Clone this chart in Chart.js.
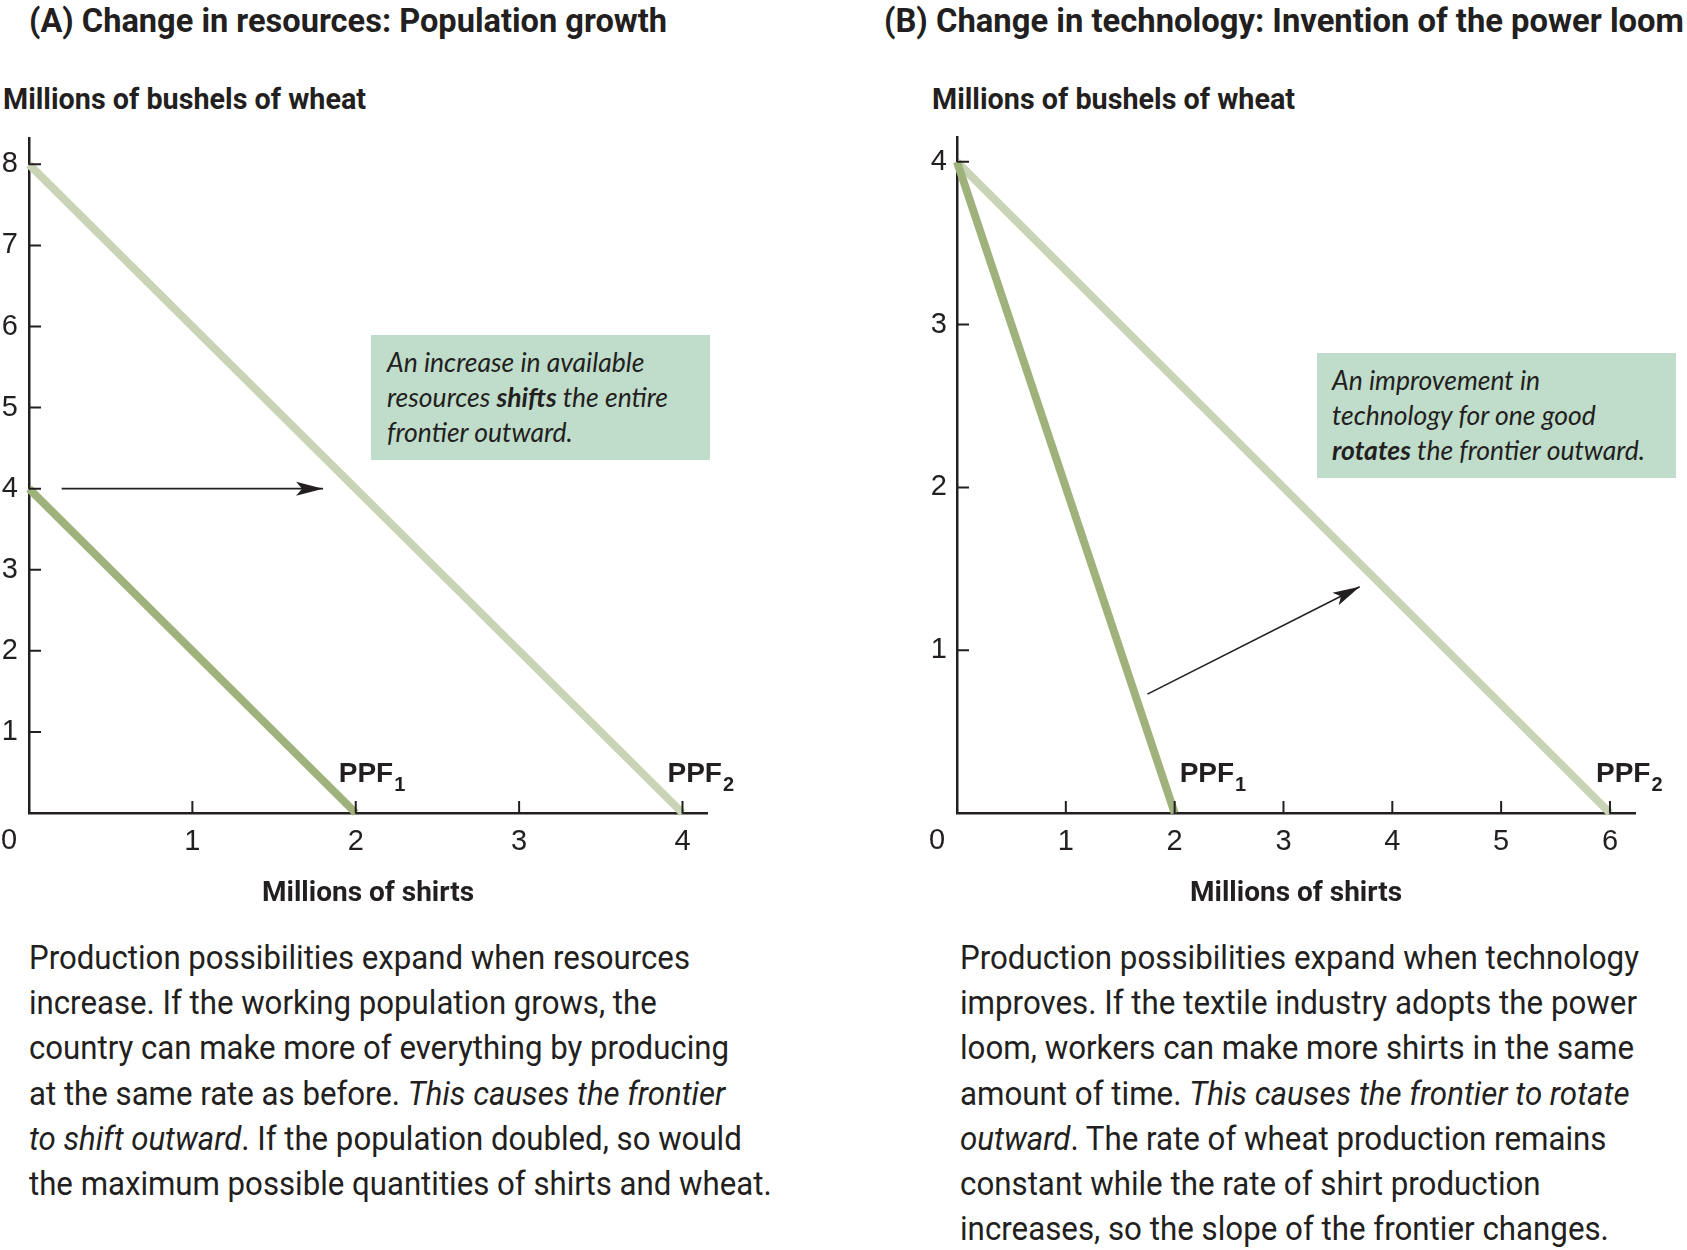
<!DOCTYPE html>
<html>
<head>
<meta charset="utf-8">
<script src="https://cdn.jsdelivr.net/npm/chart.js@4.4.1/dist/chart.umd.min.js"></script>
<style>
  html, body { margin: 0; padding: 0; background: #fff; }
  body { width: 1687px; height: 1250px; position: relative; overflow: hidden; color: #231f20; }
  .title { position: absolute; font-family: Roboto, sans-serif; font-weight: bold; font-size: 34px; line-height: 34px; white-space: nowrap; transform-origin: 0 0; }
  .ytitle { position: absolute; font-family: Roboto, sans-serif; font-weight: bold; font-size: 29px; line-height: 29px; white-space: nowrap; transform-origin: 0 0; }
  .box { position: absolute; background: #c0dccb; font-family: Lato, sans-serif; font-style: italic; font-size: 26.5px; line-height: 35px; white-space: nowrap; box-sizing: border-box; }
  .caption { position: absolute; font-family: Roboto, sans-serif; font-size: 33px; line-height: 45.2px; white-space: nowrap; transform-origin: 0 0; }
  canvas { position: absolute; }
</style>
</head>
<body>
<div class="title" data-w="638" style="left:29px; top:3px;">(A) Change in resources: Population growth</div>
<div class="title" data-w="800" style="left:884px; top:3px;">(B) Change in technology: Invention of the power loom</div>
<div class="ytitle" data-w="363" style="left:3px; top:85px;">Millions of bushels of wheat</div>
<div class="ytitle" data-w="363" style="left:932px; top:85px;">Millions of bushels of wheat</div>

<canvas id="chartA" width="770" height="801" style="left:0; top:110px;"></canvas>
<canvas id="chartB" width="787" height="801" style="left:900px; top:110px;"></canvas>

<div class="box" style="left:371px; top:335px; width:339px; height:125px; padding:10px 0 0 16px;">
  An increase in available<br>resources <b>shifts</b> the entire<br>frontier outward.
</div>
<div class="box" style="left:1317px; top:353px; width:359px; height:125px; padding:10px 0 0 15px;">
  An improvement in<br>technology for one good<br><b>rotates</b> the frontier outward.
</div>

<div class="caption" id="capA" data-first="661" style="left:29px; top:935px;">
  <span class="first">Production possibilities expand when resources</span><br>
  increase. If the working population grows, the<br>
  country can make more of everything by producing<br>
  at the same rate as before. <i>This causes the frontier</i><br>
  <i>to shift outward</i>. If the population doubled, so would<br>
  the maximum possible quantities of shirts and wheat.
</div>
<div class="caption" id="capB" data-first="679" style="left:960px; top:935px;">
  <span class="first">Production possibilities expand when technology</span><br>
  improves. If the textile industry adopts the power<br>
  loom, workers can make more shirts in the same<br>
  amount of time. <i>This causes the frontier to rotate</i><br>
  <i>outward</i>. The rate of wheat production remains<br>
  constant while the rate of shirt production<br>
  increases, so the slope of the frontier changes.
</div>

<script>
// ---------- data ----------

// Panel A: population growth (shirts, wheat), millions
const xTicksA = [1, 2, 3, 4];
const yTicksA = [1, 2, 3, 4, 5, 6, 7, 8];
const ppf1A = [[0, 4], [2, 0]];
const ppf2A = [[0, 8], [4, 0]];
const arrowA = [[0.2, 4], [1.8, 4]];

// Panel B: power loom
const xTicksB = [1, 2, 3, 4, 5, 6];
const yTicksB = [1, 2, 3, 4];
const ppf1B = [[0, 4], [2, 0]];
const ppf2B = [[0, 4], [6, 0]];
const arrowB = [[1.75, 0.73], [3.7, 1.39]];

// ---------- styles ----------

const INK = "#231f20";
const GREEN_DARK = "#9fb27c";
const GREEN_LIGHT = "#c9d4b6";
const TICK_FONT = { family: "Liberation Sans", size: 29 };

// squeeze the condensed headings and captions to the width they have in the figure
document.querySelectorAll("[data-w]").forEach((el) => {
  const w = el.getBoundingClientRect().width;
  el.style.transform = "scaleX(" + (+el.dataset.w / w) + ")";
});
document.querySelectorAll(".caption").forEach((el) => {
  const w = el.querySelector(".first").getBoundingClientRect().width;
  el.style.transform = "scaleX(" + (+el.dataset.first / w) + ")";
});

// tick marks drawn inward, origin "0", PPF labels, arrow heads
const extras = {
  id: "extras",
  afterDatasetsDraw(chart) {
    const { ctx } = chart;
    const x = chart.scales.x, y = chart.scales.y;
    const x0 = x.getPixelForValue(0), y0 = y.getPixelForValue(0);
    ctx.save();

    ctx.strokeStyle = INK;
    ctx.lineWidth = 2;
    ctx.beginPath();
    x.ticks.forEach((t) => {
      const px = x.getPixelForValue(t.value);
      ctx.moveTo(px, y0);
      ctx.lineTo(px, y0 - 12);
    });
    y.ticks.forEach((t) => {
      const py = y.getPixelForValue(t.value);
      ctx.moveTo(x0, py);
      ctx.lineTo(x0 + 12, py);
    });
    ctx.stroke();

    ctx.fillStyle = INK;
    ctx.font = TICK_FONT.size + "px '" + TICK_FONT.family + "'";
    ctx.textAlign = "center";
    ctx.textBaseline = "middle";
    ctx.fillText("0", x0 - 20, y0 + 28);

    chart.data.datasets.forEach((ds, i) => {
      const pts = chart.getDatasetMeta(i).data;
      const end = pts[pts.length - 1];
      if (ds.ppfLabel) {
        const lx = end.x + ds.ppfLabel.dx, ly = end.y - 31;
        ctx.textAlign = "left";
        ctx.textBaseline = "alphabetic";
        ctx.font = "bold 28px 'Liberation Sans'";
        ctx.fillText("PPF", lx, ly);
        const w = ctx.measureText("PPF").width;
        ctx.font = "bold 20px 'Liberation Sans'";
        ctx.fillText(ds.ppfLabel.sub, lx + w + 1, ly + 9);
      }
      if (ds.arrowHead) {
        const start = pts[pts.length - 2];
        const ang = Math.atan2(end.y - start.y, end.x - start.x);
        ctx.save();
        ctx.translate(end.x, end.y);
        ctx.rotate(ang);
        ctx.beginPath();
        ctx.moveTo(0, 0);
        ctx.lineTo(-27, -7);
        ctx.lineTo(-21, 0);
        ctx.lineTo(-27, 7);
        ctx.closePath();
        ctx.fill();
        ctx.restore();
      }
    });
    ctx.restore();
  },
};

function toXY(arr) {
  return arr.map(([x, y]) => ({ x, y }));
}

function ppfDataset(points, color, sub, dx) {
  return {
    data: toXY(points),
    showLine: true,
    borderColor: color,
    borderWidth: 8,
    borderCapStyle: "butt",
    pointRadius: 0,
    clip: false,
    ppfLabel: { sub, dx },
  };
}

function arrowDataset(points) {
  return {
    data: toXY(points),
    showLine: true,
    borderColor: INK,
    borderWidth: 1.6,
    pointRadius: 0,
    clip: false,
    arrowHead: true,
  };
}

function buildPanel(id, p) {
  return new Chart(document.getElementById(id), {
    type: "scatter",
    data: { datasets: p.datasets },
    options: {
      responsive: false,
      animation: false,
      devicePixelRatio: 1,
      layout: { padding: p.padding },
      plugins: { legend: { display: false }, tooltip: { enabled: false } },
      scales: {
        x: {
          type: "linear",
          min: 0,
          max: p.xMax,
          afterBuildTicks: (s) => { s.ticks = p.xTicks.map((v) => ({ value: v })); },
          afterFit: (s) => { s.height = 98; },
          grid: { display: false, drawTicks: false },
          border: { display: true, color: INK, width: 2.5 },
          ticks: { font: TICK_FONT, color: INK, padding: 12, maxRotation: 0 },
          title: {
            display: true,
            text: "Millions of shirts",
            color: INK,
            padding: 0,
            font: { family: "Roboto", size: 28, weight: "bold" },
          },
        },
        y: {
          type: "linear",
          min: 0,
          max: p.yMax,
          afterBuildTicks: (s) => { s.ticks = p.yTicks.map((v) => ({ value: v })); },
          afterFit: (s) => { s.width = p.yWidth; },
          grid: { display: false, drawTicks: false },
          border: { display: true, color: INK, width: 2.5 },
          ticks: { font: TICK_FONT, color: INK, padding: p.yPad },
        },
      },
    },
    plugins: [extras],
  });
}

buildPanel("chartA", {
  datasets: [
    ppfDataset(ppf1A, GREEN_DARK, "1", -17),
    ppfDataset(ppf2A, GREEN_LIGHT, "2", -15),
    arrowDataset(arrowA),
  ],
  xTicks: xTicksA, yTicks: yTicksA,
  xMax: 4.15, yMax: 8.32,
  yWidth: 29, yPad: 11,
  padding: { left: 0, top: 24, right: 63, bottom: 0 },
});

buildPanel("chartB", {
  datasets: [
    ppfDataset(ppf1B, GREEN_DARK, "1", 5),
    ppfDataset(ppf2B, GREEN_LIGHT, "2", -14),
    arrowDataset(arrowB),
  ],
  xTicks: xTicksB, yTicks: yTicksB,
  xMax: 6.23, yMax: 4.15,
  yWidth: 57, yPad: 10,
  padding: { left: 0, top: 24, right: 52, bottom: 0 },
});
</script>
</body>
</html>
